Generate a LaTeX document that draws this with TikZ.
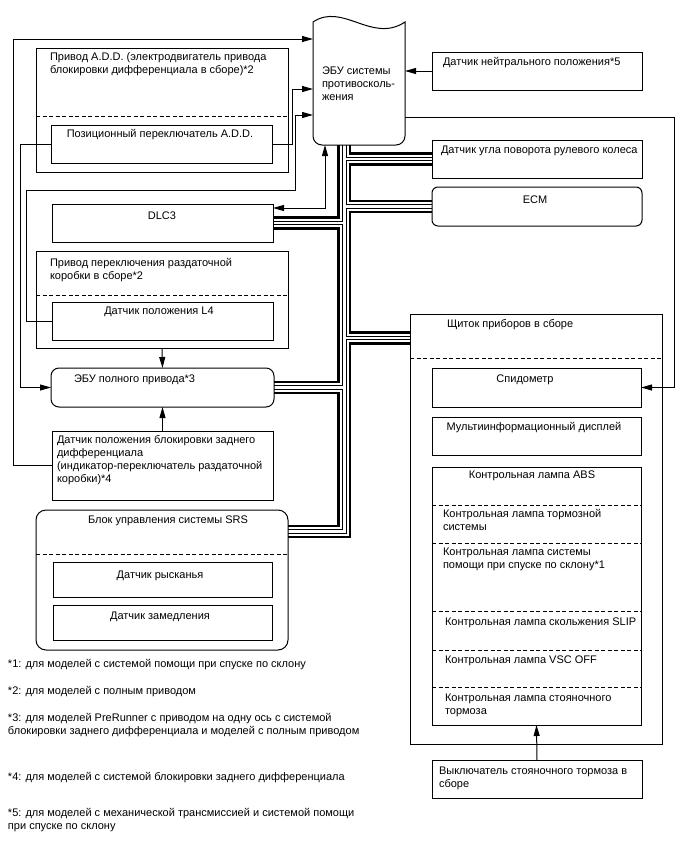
\documentclass[tikz,border=0pt]{standalone}
\usepackage{fontspec}
\setmainfont{Liberation Sans}
\usetikzlibrary{arrows.meta}
\newcommand\mkbox[6][]{\node[boxst,#1,minimum width={(#5)-(#3)},minimum height={(#6)-(#4)}] (#2) at ({((#3)+(#5))/2},{((#4)+(#6))/2}) {};}
\begin{document}
\begin{tikzpicture}[x=1pt,y=-1pt,
  boxst/.style={draw=black,line width=1pt,inner sep=0pt,outer sep=0pt},
  txt/.style={inner sep=0pt,outer sep=0pt,align=left,font=\fontsize{11}{13}\selectfont},
  arr/.style={line width=1pt,-{Triangle[length=11pt,width=6pt]}},
  arrboth/.style={line width=1pt,{Triangle[length=11pt,width=6pt]}-{Triangle[length=11pt,width=6pt]}},
  ln/.style={line width=1pt},
  dsh/.style={line width=1pt,dash pattern=on 4pt off 2.5pt},
  cthick/.style={line width=2.6pt,line join=miter},
  cthin/.style={line width=1pt,line join=miter}]
\fill[white] (0,0) rectangle (688,852);
\useasboundingbox (0,0) rectangle (688,852);

% ---------- boxes ----------
\mkbox{add}{36}{48}{288}{172}
\mkbox{pos}{51}{125}{272}{163}
\mkbox{neu}{432}{52}{642}{90}
\mkbox{steer}{432}{140}{642}{178}
\mkbox[rounded corners=6pt]{ecm}{432}{187}{642}{226}
\mkbox{dlc}{52}{204}{273}{242}
\mkbox{tca}{36}{251}{288}{348}
\mkbox{lfour}{52}{302}{273}{340}
\mkbox[rounded corners=8pt]{wd}{51}{368}{274}{407}
\mkbox{rear}{52}{431}{273}{500}
\mkbox[rounded corners=10pt]{srs}{36}{510}{288}{650}
\mkbox{yaw}{53}{562}{272}{597}
\mkbox{dec}{53}{605}{272}{640}
\mkbox{cl}{410}{314}{662}{744}
\mkbox{spd}{432}{368}{641}{407}
\mkbox{mid}{432}{417}{641}{455}
\mkbox{lamp}{432}{467}{641}{725}
\mkbox{pk}{432}{760}{642}{798}

% ABS ECU (document shape)
\node[inner sep=0pt,outer sep=0pt,minimum width=92,minimum height=123] (abs) at (359,83.5) {};
\draw[ln] (313,22) .. controls (343,2) and (372,44) .. (405,22) -- (405,136)
  .. controls (405,141) and (401,145) .. (396,145) -- (322,145)
  .. controls (317,145) and (313,141) .. (313,136) -- cycle;

% dashed separators
\draw[dsh] (add.west |- 0,116) -- (add.east |- 0,116);
\draw[dsh] (tca.west |- 0,295) -- (tca.east |- 0,295);
\draw[dsh] (srs.west |- 0,554) -- (srs.east |- 0,554);
\draw[dsh] (cl.west |- 0,358) -- (cl.east |- 0,358);
\foreach \yy in {505,543,611.5,650,687.5}
  \draw[dsh] (lamp.west |- 0,\yy) -- (lamp.east |- 0,\yy);

% ---------- texts ----------
\node[txt,anchor=north west] (tadd) at (50,53) {Привод A.D.D. (электродвигатель привода\\блокировки дифференциала в сборе)*2};
\node[txt,anchor=base] (tpos) at (160,137) {Позиционный переключатель A.D.D.};
\node[txt,anchor=north west] (tabs) at (322,67) {ЭБУ системы\\противосколь-\\жения};
\node[txt,anchor=base west] (tneu) at (443,65) {Датчик нейтрального положения*5};
\node[txt,anchor=base west] (tsteer) at (441,153) {Датчик угла поворота рулевого колеса};
\node[txt,anchor=base] (tecm) at (535,203) {ECM};
\node[txt,anchor=base] (tdlc) at (162,219) {DLC3};
\node[txt,anchor=north west] (ttca) at (50,258) {Привод переключения раздаточной\\коробки в сборе*2};
\node[txt,anchor=base] (tlfour) at (159,314) {Датчик положения L4};
\node[txt,anchor=base west] (twd) at (74,382) {ЭБУ полного привода*3};
\node[txt,anchor=north west] (trear) at (57,435) {Датчик положения блокировки заднего\\дифференциала\\(индикатор-переключатель раздаточной\\коробки)*4};
\node[txt,anchor=base west] (tsrs) at (88,523) {Блок управления системы SRS};
\node[txt,anchor=base] (tyaw) at (160,578) {Датчик рысканья};
\node[txt,anchor=base] (tdec) at (160,619) {Датчик замедления};
\node[txt,anchor=base west] (tcl) at (447,327) {Щиток приборов в сборе};
\node[txt,anchor=base] (tspd) at (525,382) {Спидометр};
\node[txt,anchor=base] (tmid) at (534,430) {Мультиинформационный дисплей};
\node[txt,anchor=base] (tabl) at (532,478) {Контрольная лампа ABS};
\node[txt,anchor=north west] (tbrk) at (443,509) {Контрольная лампа тормозной\\системы};
\node[txt,anchor=north west] (thac) at (443,548) {Контрольная лампа системы\\помощи при спуске по склону*1};
\node[txt,anchor=base west] (tslip) at (445,625) {Контрольная лампа скольжения SLIP};
\node[txt,anchor=base west] (tvsc) at (445,663) {Контрольная лампа VSC OFF};
\node[txt,anchor=north west] (tpb) at (445,694) {Контрольная лампа стояночного\\тормоза};
\node[txt,anchor=north west] (tpk) at (439,767) {Выключатель стояночного тормоза в\\сборе};

\node[txt,anchor=base west] (fa) at (8,667) {*1: для моделей с системой помощи при спуске по склону};
\node[txt,anchor=base west] (fb) at (8,694) {*2: для моделей с полным приводом};
\node[txt,anchor=north west] (fc) at (8,713) {*3: для моделей PreRunner с приводом на одну ось с системой\\блокировки заднего дифференциала и моделей с полным приводом};
\node[txt,anchor=base west] (fd) at (8,780) {*4: для моделей с системой блокировки заднего дифференциала};
\node[txt,anchor=north west] (fe) at (8,808) {*5: для моделей с механической трансмиссией и системой помощи\\при спуске по склону};

% ---------- connectors ----------
\draw[arr] (rear.west) -| (13,39) -- (abs.west |- 0,39);
\draw[arr] (pos.east) -| (292,89) -- (abs.west |- 0,89);
\draw[arr] (lfour.west) -| (26,190) -| (295,115) -- (abs.west |- 0,115);
\draw[arr] (pos.west) -| (20,387.5) -- (wd.west);
\draw[arrboth] (dlc.east |- 0,208) -| (abs.south -| 325,0);
\draw[arr] (neu.west) -- (abs.east |- neu.west);
\draw[arr] (abs.east |- 0,117) -| (674,387.5) -- (spd.east);
\draw[arr] (tca.south) -- (wd.north);
\draw[arr] (rear.north) -- (wd.south);
\draw[arr] (pk.north) -- (lamp.south);

% ---------- communication bus ----------
% right channel
\draw[cthick] (abs.south -| 350,0) -- (350,153.5) -- (steer.west |- 0,153.5);
\draw[cthin]  (abs.south -| 346.25,0) -- (346.25,157.25) -- (steer.west |- 0,157.25);
\draw[cthin]  (steer.west |- 0,160.75) -- (346.25,160.75) -- (346.25,204.75) -- (ecm.west |- 0,204.75);
\draw[cthick] (steer.west |- 0,164.5) -- (350,164.5) -- (350,201) -- (ecm.west |- 0,201);
\draw[cthin]  (ecm.west |- 0,208.25) -- (346.25,208.25) -- (346.25,336.25) -- (cl.west |- 0,336.25);
\draw[cthick] (ecm.west |- 0,212) -- (350,212) -- (350,332.5) -- (cl.west |- 0,332.5);
\draw[cthin]  (cl.west |- 0,339.75) -- (346.25,339.75) -- (346.25,533.25) -- (srs.east |- 0,533.25);
\draw[cthick] (cl.west |- 0,343.5) -- (350,343.5) -- (350,537) -- (srs.east |- 0,537);
% left channel
\draw[cthick] (abs.south -| 338.5,0) -- (338.5,217.5) -- (dlc.east |- 0,217.5);
\draw[cthin]  (abs.south -| 342.25,0) -- (342.25,221.25) -- (dlc.east |- 0,221.25);
\draw[cthin]  (dlc.east |- 0,224.75) -- (342.25,224.75) -- (342.25,385.75) -- (wd.east |- 0,385.75);
\draw[cthick] (dlc.east |- 0,228.5) -- (338.5,228.5) -- (338.5,382) -- (wd.east |- 0,382);
\draw[cthin]  (wd.east |- 0,389.25) -- (342.25,389.25) -- (342.25,529.75) -- (srs.east |- 0,529.75);
\draw[cthick] (wd.east |- 0,393) -- (338.5,393) -- (338.5,526) -- (srs.east |- 0,526);
\end{tikzpicture}
\end{document}
